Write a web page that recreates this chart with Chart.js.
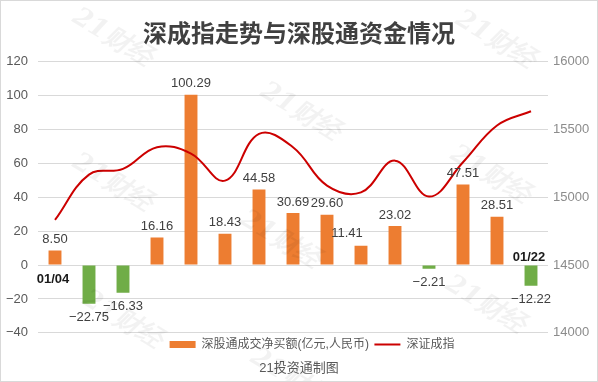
<!DOCTYPE html>
<html>
<head>
<meta charset="utf-8">
<script src="https://cdn.jsdelivr.net/npm/chart.js@4.4.1/dist/chart.umd.min.js"></script>
<style>
	html, body { margin: 0; padding: 0; background: #fff; }
	#wrap { width: 598px; height: 382px; position: relative; }
</style>
</head>
<body>
<div id="wrap"><canvas id="chart"></canvas></div>
<script>
// trading days, Jan 2021
var dates = ['01/04', '01/05', '01/06', '01/07', '01/08', '01/11', '01/12', '01/13',
	'01/14', '01/15', '01/18', '01/19', '01/20', '01/21', '01/22'];
// 深股通成交净买额 (亿元)
var netBuy = [8.50, -22.75, -16.33, 16.16, 100.29, 18.43, 44.58, 30.69,
	29.60, 11.41, 23.02, -2.21, 47.51, 28.51, -12.22];
// 深证成指 close
var szIndex = [14832, 15166, 15208, 15368, 15321, 15122, 15466, 15368,
	15085, 15035, 15269, 15004, 15257, 15528, 15633];
var leftTicks = [-40, -20, 0, 20, 40, 60, 80, 100, 120];
var rightTicks = [14000, 14500, 15000, 15500, 16000];

var ORANGE = '#ED7D31';
var GREEN = '#70AD47';
var RED = '#CC0000';

function minus(s)
{
	return String(s).replace('-', '\u2212');
}

// value labels above / below bars, plus first and last date at the zero line
var barLabels = {
	id: 'barLabels',
	afterDatasetsDraw: function (chart, args, opts)
	{
		var ctx = chart.ctx;
		var meta = chart.getDatasetMeta(1);
		var y = chart.scales.y;
		var zero = y.getPixelForValue(0);
		ctx.save();
		ctx.textAlign = 'center';
		ctx.textBaseline = 'middle';
		meta.data.forEach(function (bar, i)
		{
			var v = netBuy[i];
			var shift = opts.shift[i] || [0, 0];
			ctx.font = '13px "Liberation Sans", Arial, sans-serif';
			ctx.fillStyle = '#404040';
			var ty = v >= 0 ? bar.y - 11 : bar.y + 14;
			ctx.fillText(minus(v.toFixed(2)), bar.x + shift[0], ty + shift[1]);

			if (i === 0 || i === dates.length - 1)
			{
				ctx.font = 'bold 13px "Liberation Sans", Arial, sans-serif';
				ctx.fillStyle = '#1a1a1a';
				ctx.fillText(dates[i], bar.x - 2, v >= 0 ? zero + 14 : zero - 8);
			}
		});
		ctx.restore();
	}
};

var frame = {
	id: 'frame',
	afterLayout: function (chart, args, opts)
	{
		// excel legend sits a bit right of centre
		chart.legend.left += opts.legendShift;
		chart.legend.right += opts.legendShift;
	},
	afterDraw: function (chart, args, opts)
	{
		var ctx = chart.ctx;
		ctx.save();
		ctx.font = 'italic bold 26px "DejaVu Serif", serif';
		ctx.fillStyle = 'rgba(0,0,0,0.05)';
		ctx.textAlign = 'center';
		ctx.textBaseline = 'middle';
		opts.marks.forEach(function (m)
		{
			ctx.save();
			ctx.translate(m[0], m[1]);
			ctx.rotate(0.55);
			ctx.fillText('21财经', 0, 0);
			ctx.restore();
		});
		ctx.strokeStyle = '#d9d9d9';
		ctx.lineWidth = 1;
		ctx.strokeRect(0.5, 0.5, chart.width - 1, chart.height - 1);
		ctx.restore();
	}
};

Chart.defaults.font.family = '"Liberation Sans", "Noto Sans CJK SC", sans-serif';
Chart.defaults.color = '#595959';

new Chart(document.getElementById('chart'), {
	data: {
		labels: dates,
		datasets: [
			{
				type: 'line',
				label: '深证成指',
				data: szIndex,
				yAxisID: 'y1',
				borderColor: RED,
				backgroundColor: RED,
				borderWidth: 2,
				pointRadius: 0,
				pointStyle: 'line',
				tension: 0.4,
				order: 0
			},
			{
				type: 'bar',
				label: '深股通成交净买额(亿元,人民币)',
				data: netBuy,
				yAxisID: 'y',
				backgroundColor: function (c) { return c.raw < 0 ? GREEN : ORANGE; },
				pointStyle: 'rect',
				categoryPercentage: 0.4,
				barPercentage: 0.95,
				order: 1
			}
		]
	},
	options: {
		responsive: true,
		maintainAspectRatio: false,
		animation: false,
		layout: { padding: 0 },
		scales: {
			x: { display: false, offset: true },
			y: {
				position: 'left',
				min: leftTicks[0],
				max: leftTicks[leftTicks.length - 1],
				afterBuildTicks: function (s) { s.ticks = leftTicks.map(function (v) { return {value: v}; }); },
				afterFit: function (s) { s.width = 38; },
				border: { display: false },
				grid: { color: '#d9d9d9', drawTicks: false },
				ticks: {
					padding: 10,
					color: '#595959',
					font: { size: 13 },
					callback: function (v) { return minus(v); }
				}
			},
			y1: {
				position: 'right',
				min: rightTicks[0],
				max: rightTicks[rightTicks.length - 1],
				afterBuildTicks: function (s) { s.ticks = rightTicks.map(function (v) { return {value: v}; }); },
				afterFit: function (s) { s.width = 50; },
				border: { display: false },
				grid: { display: false, drawTicks: false },
				ticks: {
					padding: 5,
					color: '#8c8c8c',
					font: { size: 13 },
					callback: function (v) { return String(v); }
				}
			}
		},
		plugins: {
			title: {
				display: true,
				text: '深成指走势与深股通资金情况',
				color: '#404040',
				font: { family: '"Noto Sans CJK SC", sans-serif', size: 24, weight: 'bold' },
				padding: { top: 18.6, bottom: 14 }
			},
			legend: {
				position: 'bottom',
				labels: {
					usePointStyle: true,
					pointStyleWidth: 26,
					boxHeight: 7,
					padding: 5.5,
					color: '#595959',
					font: { size: 12 },
					sort: function (a, b) { return b.datasetIndex - a.datasetIndex; }
				}
			},
			subtitle: {
				display: true,
				position: 'bottom',
				text: '21投资通制图',
				color: '#595959',
				font: { size: 13 },
				padding: { top: 0, bottom: 6 }
			},
			tooltip: { enabled: false },
			barLabels: { shift: { 9: [-14, -1] } },
			frame: {
				legendShift: 13,
				marks: [[112, 38], [495, 40], [300, 112], [112, 183], [490, 175],
					[280, 240], [122, 320], [485, 305], [290, 378]]
			}
		}
	},
	plugins: [barLabels, frame]
});
</script>
</body>
</html>
